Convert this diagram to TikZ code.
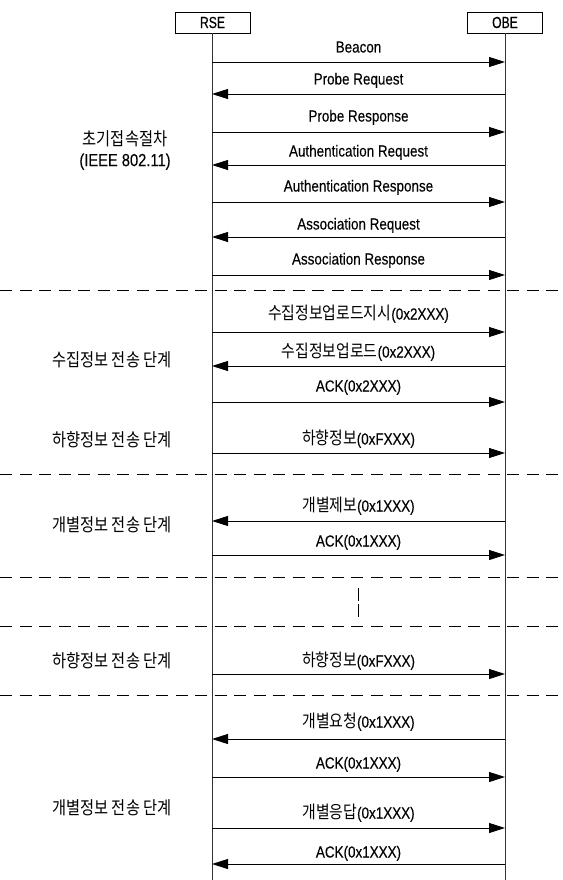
\documentclass[tikz,border=0pt]{standalone}
\usepackage{fontspec}
\setmainfont{Liberation Sans}[FakeStretch=0.84,FakeBold=0.2]
\newfontfamily\kr{Noto Sans CJK KR}[FakeStretch=0.85]
\newfontfamily\boxfont{Liberation Sans}[FakeStretch=0.76,FakeBold=0.4]
\newcommand\kt[1]{{\kr\fontsize{17.5}{20}\selectfont #1}}
\usetikzlibrary{arrows.meta}
\begin{document}
\begin{tikzpicture}[x=1pt,y=-1pt,
  lbl/.style={font=\fontsize{16}{18}\selectfont, inner sep=0pt, text height=11pt, text depth=0pt, anchor=center},
  side/.style={font=\kr\fontsize{18}{21}\selectfont, inner sep=0pt, align=center, anchor=center},
  actor/.style={draw, line width=0.8pt, minimum width=75pt, minimum height=21pt, inner sep=0pt, font=\boxfont\fontsize{16}{18}\selectfont},
  life/.style={line width=0.8pt, draw=black!80},
  msg/.style={line width=0.9pt, -{Triangle[length=16pt,width=10pt]}},
  sep/.style={line width=0.8pt, dash pattern=on 12pt off 7.5pt}]
\path[use as bounding box] (0,0) rectangle (562,880);
% actors
\node[actor] (rse) at (212.5,22.5) {RSE};
\node[actor] (obe) at (505,22.5) {OBE};
\coordinate (rend) at (212,880);
\coordinate (oend) at (505,880);
\draw[life] (rse.south -| rend) -- (rend);
\draw[life] (obe.south) -- (oend);
% coordinates on lifelines
\foreach \i/\y in {1/62,2/94,3/132,4/165,5/202,6/237,7/275,8/332,9/366,10/402,11/453,12/521,13/555,14/674,15/739,16/777,17/828,18/864}{
  \coordinate (r\i) at (212,\y);
  \coordinate (o\i) at (505,\y);
}
% messages
\draw[msg] (r1) -- (o1);   \node[lbl] (t1) at (358.5,47) {Beacon};
\draw[msg] (o2) -- (r2);   \node[lbl] (t2) at (358.5,79) {Probe Request};
\draw[msg] (r3) -- (o3);   \node[lbl] (t3) at (358.5,116) {Probe Response};
\draw[msg] (o4) -- (r4);   \node[lbl] (t4) at (358.5,151) {Authentication Request};
\draw[msg] (r5) -- (o5);   \node[lbl] (t5) at (358.5,186) {Authentication Response};
\draw[msg] (o6) -- (r6);   \node[lbl] (t6) at (358.5,224) {Association Request};
\draw[msg] (r7) -- (o7);   \node[lbl] (t7) at (358.5,259) {Association Response};
\draw[msg] (r8) -- (o8);   \node[lbl] (t8) at (358.5,314) {\kt{수집정보업로드지시}(0x2XXX)};
\draw[msg] (o9) -- (r9);   \node[lbl] (t9) at (358.5,352) {\kt{수집정보업로드}(0x2XXX)};
\draw[msg] (r10) -- (o10); \node[lbl] (t10) at (358.5,386) {ACK(0x2XXX)};
\draw[msg] (r11) -- (o11); \node[lbl] (t11) at (358.5,439) {\kt{하향정보}(0xFXXX)};
\draw[msg] (o12) -- (r12); \node[lbl] (t12) at (358.5,506) {\kt{개별제보}(0x1XXX)};
\draw[msg] (r13) -- (o13); \node[lbl] (t13) at (358.5,541) {ACK(0x1XXX)};
\draw[msg] (r14) -- (o14); \node[lbl] (t14) at (358.5,661) {\kt{하향정보}(0xFXXX)};
\draw[msg] (o15) -- (r15); \node[lbl] (t15) at (358.5,722) {\kt{개별요청}(0x1XXX)};
\draw[msg] (r16) -- (o16); \node[lbl] (t16) at (358.5,763) {ACK(0x1XXX)};
\draw[msg] (r17) -- (o17); \node[lbl] (t17) at (358.5,813) {\kt{개별응답}(0x1XXX)};
\draw[msg] (o18) -- (r18); \node[lbl] (t18) at (358.5,852) {ACK(0x1XXX)};
% phase labels
\node[side] (p1) at (125,150) {초기접속절차\\[0pt]{\rmfamily\fontsize{17.5}{19}\selectfont (IEEE 802.11)}};
\node[side] (p2) at (112,360) {수집정보 전송 단계};
\node[side] (p3) at (112,440) {하향정보 전송 단계};
\node[side] (p4) at (112,525) {개별정보 전송 단계};
\node[side] (p5) at (112,661) {하향정보 전송 단계};
\node[side] (p6) at (112,808) {개별정보 전송 단계};
% separators
\foreach \j/\y in {1/290,2/474,3/577,4/626,5/695}{
  \coordinate (sa\j) at (0,\y);
  \coordinate (sb\j) at (562,\y);
  \draw[sep] (sa\j) -- (sb\j);
}
% elision mark
\coordinate (va) at (358.5,588);
\coordinate (vb) at (358.5,617);
\draw[line width=0.8pt, dash pattern=on 13pt off 3pt] (va) -- (vb);
\end{tikzpicture}
\end{document}
